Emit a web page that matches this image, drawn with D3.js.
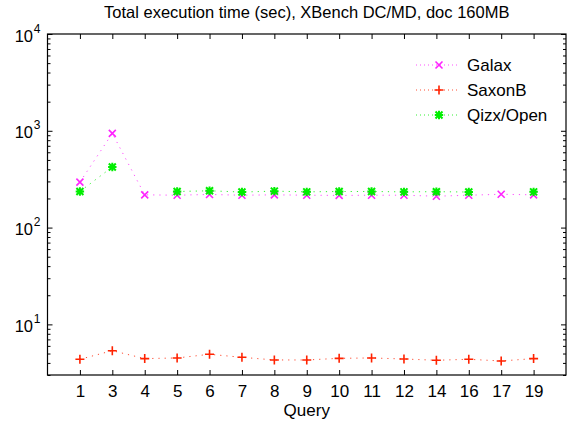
<!DOCTYPE html>
<html><head><meta charset="utf-8">
<script src="https://cdn.jsdelivr.net/npm/d3@7"></script>
<style>
body{margin:0;background:#fff}
svg{display:block}
text{font-family:"Liberation Sans",Arial,Helvetica,sans-serif;fill:#000}
</style>
</head><body>
<svg id="c" width="574" height="425"></svg>
<script>
const queries = ["1","3","4","5","6","7","8","9","10","11","12","14","16","17","19"];
const galax  = [295, 940, 218, 216, 220, 216, 218, 216, 215, 216, 216, 211, 216, 221, 218];
const saxonB = [4.36, 5.35, 4.43, 4.50, 4.91, 4.57, 4.29, 4.29, 4.46, 4.50, 4.39, 4.26, 4.36, 4.19, 4.43];
const qizx   = [236, 423, null, 236, 240, 233, 238, 234, 236, 236, 234, 235, 233, null, 234];
const seriesNames = ["Galax", "SaxonB", "Qizx/Open"];
const yMajorTicks = [10, 100, 1000, 10000];
const titleText = "Total execution time (sec), XBench DC/MD, doc 160MB";
const xLabel = "Query";

const svg = d3.select("#c");
const L = 47.5, R = 566, T = 34, B = 375;

const x = d3.scalePoint().domain(queries).range([L, R]).padding(1);
const y = d3.scaleLog().domain([3, 10000]).range([B, T]);

const colors = {"Galax":"#ff22ff","SaxonB":"#ff2200","Qizx/Open":"#00ee00"};
const data = [
  {name:seriesNames[0], values:galax, marker:"x"},
  {name:seriesNames[1], values:saxonB, marker:"+"},
  {name:seriesNames[2], values:qizx, marker:"*"}
];

// minor ticks
const minors = [];
for (let e = 0; e < 4; e++) for (let k = 2; k <= 9; k++) { const v = k*Math.pow(10,e); if (v>=3 && v<10000) minors.push(v); }

function styleAxis(g){ g.select(".domain").remove(); g.selectAll("line").attr("stroke","#000").attr("stroke-width",1); }

// x axes bottom/top
svg.append("g").attr("transform",`translate(0,${B})`)
  .call(d3.axisBottom(x).tickSizeInner(-5).tickSizeOuter(0).tickPadding(10))
  .call(styleAxis)
  .selectAll("text").attr("font-size","17px").attr("font-family","Liberation Sans, Arial, sans-serif");
svg.append("g").attr("transform",`translate(0,${T})`)
  .call(d3.axisTop(x).tickSizeInner(-5).tickSizeOuter(0).tickFormat(""))
  .call(styleAxis);
// y axes
svg.append("g").attr("transform",`translate(${L},0)`)
  .call(d3.axisLeft(y).tickValues(yMajorTicks).tickSizeInner(-5).tickSizeOuter(0).tickFormat(""))
  .call(styleAxis);
svg.append("g").attr("transform",`translate(${L},0)`)
  .call(d3.axisLeft(y).tickValues(minors).tickSizeInner(-3).tickSizeOuter(0).tickFormat(""))
  .call(styleAxis);
svg.append("g").attr("transform",`translate(${R},0)`)
  .call(d3.axisRight(y).tickValues(yMajorTicks).tickSizeInner(-5).tickSizeOuter(0).tickFormat(""))
  .call(styleAxis);
svg.append("g").attr("transform",`translate(${R},0)`)
  .call(d3.axisRight(y).tickValues(minors).tickSizeInner(-3).tickSizeOuter(0).tickFormat(""))
  .call(styleAxis);

// y labels with superscripts
yMajorTicks.forEach(v => {
  svg.append("text").attr("x", 33).attr("y", y(v)+7.5).attr("text-anchor","end").attr("font-size","16.5px").text("10");
  svg.append("text").attr("x", 33.8).attr("y", y(v)-1.5).attr("font-size","12px").text(Math.round(Math.log10(v)));
});

// frame
svg.append("rect").attr("x",L).attr("y",T).attr("width",R-L).attr("height",B-T)
  .attr("fill","none").attr("stroke","#000").attr("stroke-width",1.2);

// markers
function drawMarker(g, type, cx, cy, color){
  const s = 3.5;
  const p = d3.path();
  if (type==="x" || type==="*"){ p.moveTo(cx-s,cy-s); p.lineTo(cx+s,cy+s); p.moveTo(cx-s,cy+s); p.lineTo(cx+s,cy-s); }
  if (type==="+" || type==="*"){ const r = type==="+"?4.5:4.2; p.moveTo(cx-r,cy); p.lineTo(cx+r,cy); p.moveTo(cx,cy-r); p.lineTo(cx,cy+r); }
  g.append("path").attr("d",p.toString()).attr("stroke",color).attr("stroke-width", type==="*"?2:1.6).attr("fill","none");
}

const line = d3.line().defined(d => d.v != null).x(d => x(d.q)).y(d => y(d.v));
data.forEach(s => {
  const pts = queries.map((q,i)=>({q, v:s.values[i]}));
  svg.append("path").datum(pts).attr("d",line).attr("fill","none")
    .attr("stroke",colors[s.name]).attr("stroke-width",1).attr("stroke-dasharray","1.2,5").attr("opacity",0.8);
  const g = svg.append("g");
  pts.filter(d=>d.v!=null).forEach(d => drawMarker(g, s.marker, x(d.q), y(d.v), colors[s.name]));
});

// legend
data.forEach((s,i) => {
  const cy = 65 + i*25;
  svg.append("line").attr("x1",416).attr("x2",457).attr("y1",cy).attr("y2",cy)
    .attr("stroke",colors[s.name]).attr("stroke-width",1).attr("stroke-dasharray","1,3").attr("opacity",0.8);
  drawMarker(svg.append("g"), s.marker, 439, cy, colors[s.name]);
  svg.append("text").attr("x",467).attr("y",cy+6).attr("font-size","17px").text(s.name);
});

// title and x label
svg.append("text").attr("x",(L+R)/2).attr("y",18).attr("text-anchor","middle").attr("font-size","16.5px").text(titleText);
svg.append("text").attr("x",(L+R)/2).attr("y",416).attr("text-anchor","middle").attr("font-size","17px").text(xLabel);
</script>
</body></html>
